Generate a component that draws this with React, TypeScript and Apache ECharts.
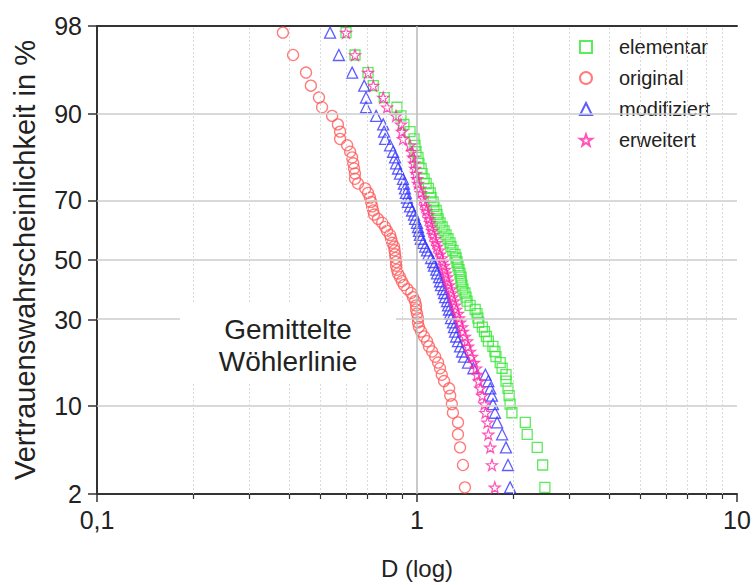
import React, { useEffect, useRef } from 'react';
import * as echarts from 'echarts';

// Plotting positions (Vertrauenswahrscheinlichkeit in %), shared by all series
const PROB = [
  2.3, 3.6, 5.0, 6.3, 7.7, 9.0, 10.3, 11.7, 13.0, 14.4, 15.7, 17.1, 18.4, 19.8, 21.1, 22.4, 23.8, 25.1,
  26.5, 27.8, 29.2, 30.5, 31.9, 33.2, 34.5, 35.9, 37.2, 38.6, 39.9, 41.3, 42.6, 44.0, 45.3, 46.6, 48.0, 49.3,
  50.7, 52.0, 53.4, 54.7, 56.0, 57.4, 58.7, 60.1, 61.4, 62.8, 64.1, 65.5, 66.8, 68.1, 69.5, 70.8, 72.2, 73.5,
  74.9, 76.2, 77.6, 78.9, 80.2, 81.6, 82.9, 84.3, 85.6, 87.0, 88.3, 89.7, 91.0, 92.3, 93.7, 95.0, 96.4, 97.7,
];

// D values per series (same order as PROB)
const ELEMENTAR = [
  2.51, 2.47, 2.375, 2.21, 2.18, 1.98, 1.954, 1.94, 1.925, 1.897, 1.897, 1.845, 1.82, 1.765, 1.752, 1.727, 1.671, 1.648,
  1.625, 1.6, 1.56, 1.55, 1.54, 1.52, 1.465, 1.434, 1.423, 1.412, 1.392, 1.383, 1.373, 1.373, 1.363, 1.353, 1.343, 1.334,
  1.325, 1.315, 1.295, 1.277, 1.268, 1.25, 1.232, 1.215, 1.198, 1.18, 1.164, 1.155, 1.148, 1.13, 1.123, 1.107, 1.1, 1.085,
  1.068, 1.052, 1.037, 1.03, 1.014, 1.007, 0.993, 0.986, 0.979, 0.951, 0.91, 0.891, 0.866, 0.79, 0.73, 0.703, 0.64, 0.6,
];
const ORIGINAL = [
  1.412, 1.392, 1.363, 1.343, 1.343, 1.295, 1.285, 1.27, 1.26, 1.215, 1.195, 1.18, 1.164, 1.14, 1.115, 1.09, 1.075, 1.052,
  1.03, 1.014, 1.007, 1.007, 1.0, 0.993, 0.993, 0.986, 0.972, 0.959, 0.933, 0.91, 0.897, 0.885, 0.872, 0.866, 0.86, 0.86,
  0.857, 0.854, 0.851, 0.848, 0.836, 0.83, 0.824, 0.806, 0.795, 0.778, 0.755, 0.734, 0.729, 0.724, 0.719, 0.713, 0.703, 0.689,
  0.654, 0.64, 0.64, 0.636, 0.632, 0.627, 0.618, 0.605, 0.575, 0.575, 0.566, 0.543, 0.505, 0.494, 0.466, 0.45, 0.41, 0.381,
];
const MODIFIZIERT = [
  1.954, 1.925, 1.897, 1.845, 1.78, 1.752, 1.727, 1.715, 1.694, 1.671, 1.636, 1.5, 1.444, 1.402, 1.383, 1.363, 1.343, 1.325,
  1.315, 1.305, 1.295, 1.277, 1.268, 1.259, 1.25, 1.241, 1.224, 1.215, 1.206, 1.189, 1.18, 1.172, 1.155, 1.148, 1.13, 1.123,
  1.107, 1.085, 1.075, 1.061, 1.044, 1.028, 1.021, 1.014, 1.007, 1.0, 0.986, 0.979, 0.965, 0.951, 0.937, 0.93, 0.923, 0.917,
  0.91, 0.904, 0.885, 0.872, 0.86, 0.854, 0.842, 0.824, 0.795, 0.789, 0.784, 0.745, 0.693, 0.693, 0.684, 0.627, 0.57, 0.535,
];
const ERWEITERT = [
  1.75, 1.715, 1.694, 1.671, 1.66, 1.636, 1.625, 1.6, 1.577, 1.56, 1.54, 1.53, 1.507, 1.486, 1.465, 1.444, 1.434, 1.412,
  1.392, 1.383, 1.363, 1.353, 1.343, 1.325, 1.315, 1.305, 1.295, 1.285, 1.277, 1.259, 1.25, 1.241, 1.232, 1.224, 1.215, 1.206,
  1.198, 1.18, 1.172, 1.155, 1.148, 1.14, 1.123, 1.115, 1.107, 1.1, 1.09, 1.085, 1.068, 1.061, 1.052, 1.044, 1.028, 1.021,
  1.007, 1.0, 0.993, 0.986, 0.979, 0.972, 0.965, 0.951, 0.904, 0.897, 0.891, 0.86, 0.806, 0.784, 0.73, 0.703, 0.64, 0.6,
];

const SERIES_NAMES = ['elementar', 'original', 'modifiziert', 'erweitert'];
const Y_TICKS = [2, 10, 30, 50, 70, 90, 98];
const Y_GRID = [10, 30, 50, 70, 90];
const X_MINOR = [0.2, 0.3, 0.4, 0.5, 0.6, 0.7, 0.8, 0.9, 2, 3, 4, 5, 6, 7, 8, 9];
const X_MIN = 0.1;
const X_MAX = 10;

// inverse standard normal CDF (probability-paper scale)
function probit(p: number): number {
  const a = [-3.969683028665376e1, 2.209460984245205e2, -2.759285104469687e2, 1.38357751867269e2, -3.066479806614716e1, 2.506628277459239];
  const b = [-5.447609879822406e1, 1.615858368580409e2, -1.556989798598866e2, 6.680131188771972e1, -1.328068155288572e1];
  const c = [-7.784894002430293e-3, -3.223964580411365e-1, -2.400758277161838, -2.549732539343734, 4.374664141464968, 2.938163982698783];
  const d = [7.784695709041462e-3, 3.224671290700398e-1, 2.445134137142996, 3.754408661907416];
  const pl = 0.02425;
  if (p < pl) {
    const q = Math.sqrt(-2 * Math.log(p));
    return (((((c[0] * q + c[1]) * q + c[2]) * q + c[3]) * q + c[4]) * q + c[5]) / ((((d[0] * q + d[1]) * q + d[2]) * q + d[3]) * q + 1);
  }
  if (p > 1 - pl) {
    const q = Math.sqrt(-2 * Math.log(1 - p));
    return -(((((c[0] * q + c[1]) * q + c[2]) * q + c[3]) * q + c[4]) * q + c[5]) / ((((d[0] * q + d[1]) * q + d[2]) * q + d[3]) * q + 1);
  }
  const q = p - 0.5;
  const r = q * q;
  return ((((((a[0] * r + a[1]) * r + a[2]) * r + a[3]) * r + a[4]) * r + a[5]) * q) / (((((b[0] * r + b[1]) * r + b[2]) * r + b[3]) * r + b[4]) * r + 1);
}

const FONT = 'Liberation Sans, Arial, Helvetica, sans-serif';
const STAR = 'path://M50,0 L61.8,35.1 L98.1,35.1 L68.8,56.8 L79.4,91 L50,70 L20.6,91 L31.2,56.8 L1.9,35.1 L38.2,35.1 Z';

export default function App() {
  const ref = useRef<HTMLDivElement>(null);
  useEffect(() => {
    if (!ref.current) return;
    const chart = echarts.init(ref.current, undefined, { renderer: 'svg' });
    const yTickVals = Y_TICKS.map((t) => probit(t / 100));
    const pts = (xs: number[]) => xs.map((x, i) => [x, probit(PROB[i] / 100)]);
    const hollow = (c: string, w = 1.3) => ({ color: 'rgba(255,255,255,0)', borderColor: c, borderWidth: w });
    const axisColor = '#333';

    const option: any = {
      animation: false,
      backgroundColor: '#fff',
      textStyle: { fontFamily: FONT },
      grid: { left: 97, right: 18, top: 26, bottom: 91 },
      legend: {
        data: SERIES_NAMES,
        orient: 'vertical',
        left: 548,
        top: 27,
        padding: [10, 36, 10, 31],
        itemWidth: 12,
        itemHeight: 12,
        itemGap: 11,
        backgroundColor: '#fff',
        textStyle: { fontSize: 20, color: '#222', fontFamily: FONT, lineHeight: 17, padding: [0, 0, 0, 22] },
      },
      xAxis: [
        {
          type: 'log',
          logBase: 10,
          min: X_MIN,
          max: X_MAX,
          position: 'bottom',
          name: 'D (log)',
          nameLocation: 'middle',
          nameGap: 62,
          nameTextStyle: { fontSize: 24, color: '#222', fontFamily: FONT },
          axisLine: { show: true, onZero: false, lineStyle: { color: axisColor, width: 2 } },
          axisTick: { show: true, inside: false, length: 8, lineStyle: { color: axisColor, width: 1.5 } },
          axisLabel: {
            fontSize: 25,
            color: '#222',
            margin: 13,
            fontFamily: FONT,
            formatter: (v: number) => String(+v.toPrecision(3)).replace('.', ','),
          },
          splitLine: { show: false },
          minorTick: { show: false },
        },
        {
          type: 'log',
          logBase: 10,
          min: X_MIN,
          max: X_MAX,
          position: 'bottom',
          axisLine: { show: false, onZero: false },
          axisTick: { show: true, customValues: X_MINOR, length: 5, lineStyle: { color: axisColor, width: 1.2 } },
          axisLabel: { show: false },
          splitLine: { show: false },
        },
        {
          type: 'log',
          logBase: 10,
          min: X_MIN,
          max: X_MAX,
          position: 'top',
          axisLine: { show: true, onZero: false, lineStyle: { color: axisColor, width: 2 } },
          axisTick: { show: false },
          axisLabel: { show: false },
          splitLine: { show: false },
        },
      ],
      yAxis: [
        {
          type: 'value',
          min: probit(0.02),
          max: probit(0.98),
          name: 'Vertrauenswahrscheinlichkeit in %',
          nameLocation: 'middle',
          nameGap: 58,
          nameTextStyle: { fontSize: 29, color: '#222', fontFamily: FONT },
          axisLine: { show: true, onZero: false, lineStyle: { color: axisColor, width: 2 } },
          axisTick: { show: true, customValues: yTickVals, length: 9, lineStyle: { color: axisColor, width: 1.5 } },
          axisLabel: {
            customValues: yTickVals,
            fontSize: 25,
            color: '#222',
            margin: 15,
            fontFamily: FONT,
            formatter: (v: number) => {
              let best = 0;
              for (let i = 0; i < yTickVals.length; i++) {
                if (Math.abs(yTickVals[i] - v) < Math.abs(yTickVals[best] - v)) best = i;
              }
              return String(Y_TICKS[best]);
            },
          },
          splitLine: { show: false },
        },
      ],
      graphic: [
        {
          type: 'rect',
          left: 180,
          top: 302,
          shape: { width: 216, height: 82 },
          style: { fill: '#fff' },
          z: 50,
        },
        {
          type: 'text',
          x: 288,
          y: 345,
          z: 51,
          style: {
            text: 'Gemittelte\nWöhlerlinie',
            fontSize: 28,
            lineHeight: 32,
            fontFamily: FONT,
            fill: '#222',
            align: 'center',
            verticalAlign: 'middle',
          },
        },
      ],
      series: [
        {
          type: 'line',
          data: [],
          z: 1,
          silent: true,
          markLine: {
            silent: true,
            symbol: 'none',
            label: { show: false },
            data: [
              ...Y_GRID.map((p) => ({ yAxis: probit(p / 100), lineStyle: { color: '#cccccc', width: 1.5, type: 'solid' } })),
              { xAxis: 1, lineStyle: { color: '#b8b8b8', width: 1.5, type: 'solid' } },
              ...X_MINOR.map((v) => ({ xAxis: v, lineStyle: { color: '#dadada', width: 1, type: [2, 2] } })),
            ],
          },
        },
        {
          name: 'elementar',
          type: 'scatter',
          symbol: 'rect',
          symbolSize: 10,
          itemStyle: hollow('#33e633'),
          data: pts(ELEMENTAR),
        },
        {
          name: 'original',
          type: 'scatter',
          symbol: 'circle',
          symbolSize: 11,
          itemStyle: hollow('#ff5a5a'),
          data: pts(ORIGINAL),
        },
        {
          name: 'modifiziert',
          type: 'scatter',
          symbol: 'triangle',
          symbolSize: 11,
          itemStyle: hollow('#3535ff'),
          data: pts(MODIFIZIERT),
        },
        {
          name: 'erweitert',
          type: 'scatter',
          symbol: STAR,
          symbolSize: 11,
          itemStyle: hollow('#ff2ba6', 1.2),
          data: pts(ERWEITERT),
        },
      ],
    };
    chart.setOption(option);
    return () => chart.dispose();
  }, []);
  return <div ref={ref} style={{ position: 'fixed', left: 0, top: 0, width: 755, height: 585 }} />;
}
